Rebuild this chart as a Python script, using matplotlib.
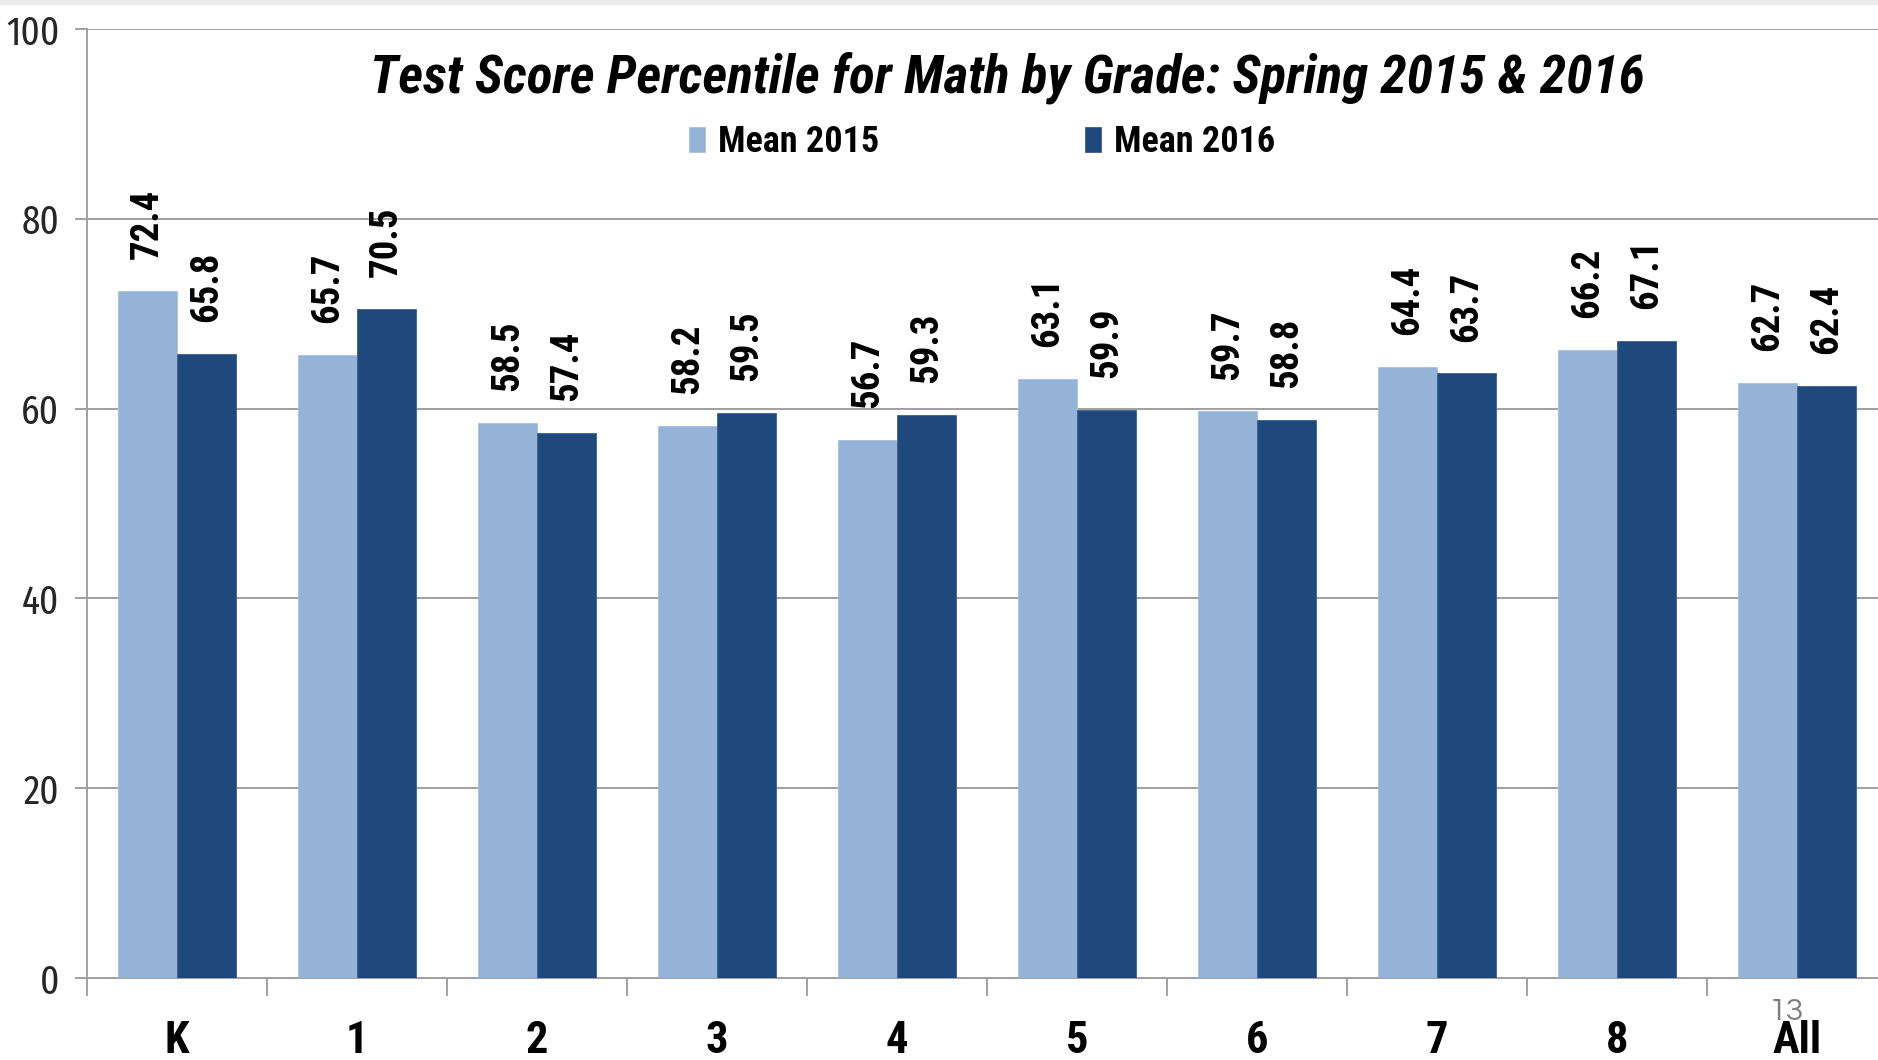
import numpy as np
import matplotlib
matplotlib.use('Agg')
import matplotlib.pyplot as plt
from matplotlib.patches import Rectangle

# data
grades = ['K', '1', '2', '3', '4', '5', '6', '7', '8', 'All']
mean_2015 = [72.4, 65.7, 58.5, 58.2, 56.7, 63.1, 59.7, 64.4, 66.2, 62.7]
mean_2016 = [65.8, 70.5, 57.4, 59.5, 59.3, 59.9, 58.8, 63.7, 67.1, 62.4]
y_ticks = [0, 20, 40, 60, 80, 100]

FONT = 'Roboto Condensed'
TICK_FONT = 'Fira Sans Extra Condensed'
LIGHT = '#95B3D7'
DARK = '#1F497D'
GRID = '#A0A0A0'

W, H = 1878, 1060
fig = plt.figure(figsize=(W / 100, H / 100), dpi=100)

# the plot area runs a little past the right edge of the slide crop
ax = fig.add_axes([87 / W, 82 / H, 1800 / W, 949 / H])

x = np.arange(len(grades))
bw = 0.328
bars15 = ax.bar(x - bw / 2, mean_2015, bw, color=LIGHT, edgecolor='#A9C2E0', linewidth=0.6,
                label='Mean 2015', zorder=3)
bars16 = ax.bar(x + bw / 2, mean_2016, bw, color=DARK, edgecolor='#3A6090', linewidth=0.6,
                label='Mean 2016', zorder=3)

# value labels, rotated, above each bar
for bars, vals in [(bars15, mean_2015), (bars16, mean_2016)]:
    for b, v in zip(bars, vals):
        ax.annotate(f'{v:.1f}', (b.get_x() + b.get_width() / 2, v),
                    xytext=(0, 23), textcoords='offset points',
                    rotation=90, ha='center', va='bottom',
                    fontsize=28, fontweight='bold', family=FONT, color='black',
                    annotation_clip=False)

ax.set_xlim(-0.5, len(grades) - 0.5)
ax.set_ylim(0, 100)

# y axis
ax.set_yticks(y_ticks)
ax.set_yticklabels([str(t) for t in y_ticks], family=TICK_FONT, fontsize=29,
                   fontweight='normal', color='#262626')
ax.tick_params(axis='y', which='major', length=9, width=1.4, color=GRID, pad=11)
ax.yaxis.grid(True, color=GRID, linewidth=1.4, zorder=0)
ax.set_axisbelow(True)

# x axis: tick marks between groups, labels centred on groups
ax.set_xticks(np.arange(-0.5, len(grades), 1.0))
ax.set_xticklabels([])
ax.tick_params(axis='x', which='major', length=13, width=1.4, color=GRID)
ax.set_xticks(x, minor=True)
ax.set_xticklabels(grades, minor=True, family=FONT, fontsize=32, fontweight='bold', color='black')
ax.tick_params(axis='x', which='minor', length=0, pad=30)

for s in ['top', 'right']:
    ax.spines[s].set_visible(False)
for s in ['left', 'bottom']:
    ax.spines[s].set_color(GRID)
    ax.spines[s].set_linewidth(1.4)

# title and legend sit inside the plot area
fig.text(1007 / W, 1 - 92 / H, 'Test Score Percentile for Math by Grade: Spring 2015 & 2016',
         ha='center', va='baseline', family=FONT, fontsize=38.5, fontweight='bold',
         style='italic', color='black')

leg = ax.legend(loc='center', bbox_to_anchor=(982 / W, 1 - 142 / H),
                bbox_transform=fig.transFigure, ncol=2, frameon=False,
                prop={'family': FONT, 'size': 26, 'weight': 'bold'},
                handlelength=0.45, handleheight=0.7, handletextpad=0.35,
                columnspacing=5.7, borderaxespad=0)

# slide page number and the faint band at the top of the crop
fig.text(1786 / W, 1 - 1012 / H, '13', ha='center', va='center', family='Questrial',
         fontsize=23, color='#7F7F7F')
fig.patches.append(Rectangle((0, 1 - 4 / H), 1, 4 / H, transform=fig.transFigure,
                             color='#EBEBEB', zorder=0))

fig.savefig('out.png', dpi=100)
